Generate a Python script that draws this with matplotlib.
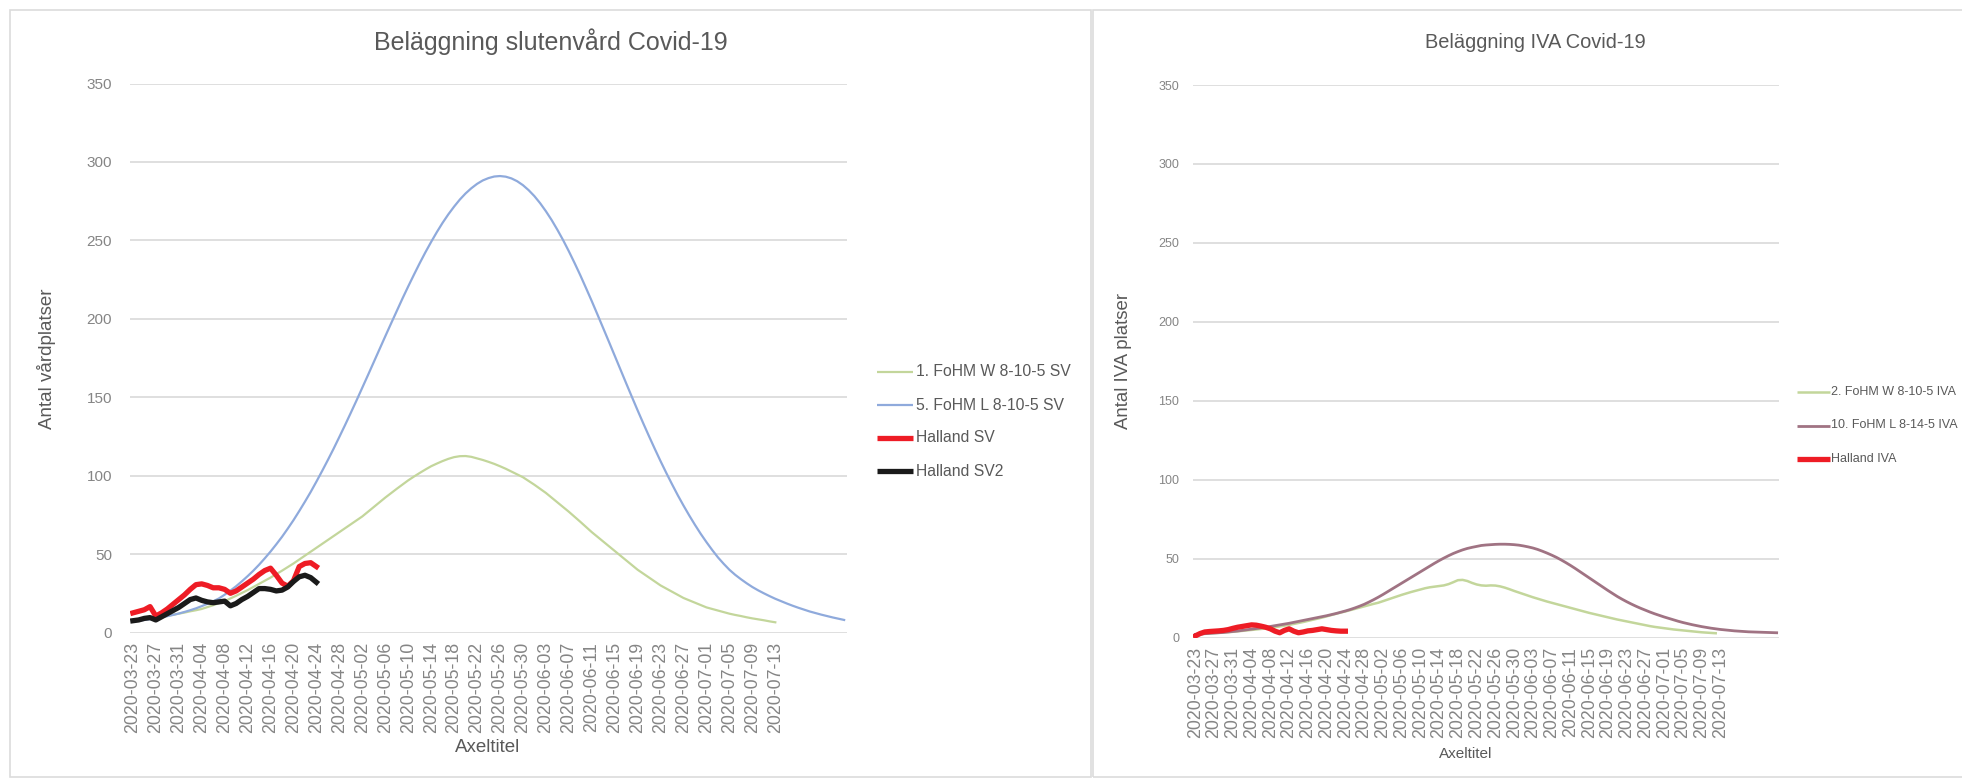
import matplotlib
matplotlib.use('Agg')
import matplotlib.pyplot as plt
from matplotlib.patches import Rectangle
from matplotlib.lines import Line2D

plt.rcParams['font.family'] = ['Liberation Sans', 'DejaVu Sans']

# ---------------- data ----------------
n_categories = 125  # 2020-03-23 .. 2020-07-25
tick_labels = ['2020-03-23', '2020-03-27', '2020-03-31', '2020-04-04', '2020-04-08',
               '2020-04-12', '2020-04-16', '2020-04-20', '2020-04-24', '2020-04-28',
               '2020-05-02', '2020-05-06', '2020-05-10', '2020-05-14', '2020-05-18',
               '2020-05-22', '2020-05-26', '2020-05-30', '2020-06-03', '2020-06-07',
               '2020-06-11', '2020-06-15', '2020-06-19', '2020-06-23', '2020-06-27',
               '2020-07-01', '2020-07-05', '2020-07-09', '2020-07-13']
tick_every = 4

sv_labels = ['1. FoHM W 8-10-5 SV', '5. FoHM L 8-10-5 SV', 'Halland SV', 'Halland SV2']
iva_labels = ['2. FoHM W 8-10-5 IVA', '10. FoHM L 8-14-5 IVA', 'Halland IVA']

sv_fohm_w = [8.0, 8.3, 8.7, 9.1, 9.5, 10.1, 10.7, 11.3, 12.0, 12.7,
             13.5, 14.2, 15.0, 16.2, 17.4, 18.7, 20.0, 21.7, 23.4, 25.2,
             27.0, 29.0, 31.0, 33.0, 35.0, 37.2, 39.4, 41.7, 44.0, 46.5,
             49.0, 51.5, 54.0, 56.5, 59.0, 61.5, 64.0, 66.5, 69.0, 71.5,
             74.0, 77.0, 80.0, 83.0, 86.0, 88.8, 91.6, 94.3, 97.0, 99.4,
             101.7, 103.9, 106.0, 107.7, 109.3, 110.7, 111.8, 112.4, 112.5, 112.0,
             111.0, 110.0, 108.8, 107.5, 106.0, 104.4, 102.6, 100.8, 99.0, 96.6,
             94.2, 91.6, 89.0, 86.0, 83.0, 80.0, 77.0, 73.8, 70.6, 67.3,
             64.0, 61.0, 58.0, 55.0, 52.0, 49.0, 46.0, 43.0, 40.0, 37.5,
             35.0, 32.5, 30.0, 28.0, 26.0, 24.0, 22.0, 20.5, 19.0, 17.5,
             16.0, 15.0, 14.0, 13.0, 12.0, 11.2, 10.5, 9.7, 9.0, 8.4,
             7.8, 7.1, 6.5]

sv_fohm_l = [7.0, 7.5, 8.0, 8.5, 9.0, 9.7, 10.4, 11.2, 12.1, 13.1,
             14.2, 15.4, 16.8, 18.3, 19.9, 21.7, 24.1, 26.7, 29.5, 32.6,
             35.9, 39.4, 43.2, 47.3, 51.6, 56.2, 61.0, 66.2, 71.6, 77.4,
             83.4, 89.6, 96.2, 103.0, 110.0, 117.2, 124.7, 132.3, 140.1, 148.0,
             156.1, 164.2, 172.4, 180.6, 188.8, 196.9, 204.9, 212.9, 220.6, 228.1,
             235.4, 242.4, 249.0, 255.3, 261.2, 266.6, 271.5, 276.0, 279.9, 283.2,
             286.0, 288.2, 289.7, 290.7, 291.0, 290.6, 289.5, 287.7, 285.2, 282.0,
             278.2, 273.7, 268.6, 263.0, 256.8, 250.2, 243.1, 235.6, 227.8, 219.6,
             211.3, 202.7, 194.0, 185.3, 176.5, 167.7, 158.9, 150.2, 141.6, 133.2,
             125.0, 117.0, 109.2, 101.7, 94.5, 87.5, 80.9, 74.6, 68.6, 62.9,
             57.6, 52.6, 47.9, 43.8, 40.0, 36.8, 34.0, 31.4, 29.0, 26.9,
             25.0, 23.2, 21.5, 20.0, 18.5, 17.1, 15.8, 14.6, 13.4, 12.4,
             11.4, 10.5, 9.6, 8.8, 8.0]

sv_halland = [12.5, 13.5, 14.5, 16.5, 10.5, 12.5, 15.0, 18.0, 21.0, 24.0,
              27.5, 30.5, 31.0, 30.0, 28.5, 28.5, 27.5, 25.0, 26.5, 29.0,
              31.5, 34.0, 37.0, 39.5, 41.0, 36.5, 31.5, 29.5, 33.0, 42.0,
              44.0, 44.5, 42.0]

sv_halland2 = [7.5, 8.0, 9.0, 9.5, 8.0, 10.0, 12.0, 14.0, 16.0, 18.5,
               21.0, 22.0, 20.5, 19.5, 19.0, 19.5, 20.0, 17.0, 18.5, 21.0,
               23.0, 25.5, 28.0, 28.0, 27.5, 26.5, 27.0, 29.0, 32.5, 35.5,
               36.5, 35.0, 32.0]

iva_fohm_w = [2.0, 2.2, 2.4, 2.6, 2.8, 3.0, 3.2, 3.4, 3.6, 3.9,
              4.2, 4.5, 4.8, 5.1, 5.4, 5.7, 6.0, 6.5, 7.0, 7.5,
              8.0, 8.6, 9.2, 9.8, 10.5, 11.2, 11.9, 12.6, 13.4, 14.2,
              15.0, 15.8, 16.5, 17.3, 18.1, 18.9, 19.7, 20.5, 21.3, 22.0,
              23.0, 24.0, 25.0, 26.0, 27.0, 27.9, 28.8, 29.6, 30.4, 31.2,
              31.8, 32.2, 32.6, 33.0, 33.8, 35.0, 36.3, 36.5, 35.8, 34.6,
              33.6, 33.0, 32.8, 33.0, 32.9, 32.4, 31.6, 30.6, 29.5, 28.5,
              27.5, 26.5, 25.5, 24.6, 23.7, 22.8, 22.0, 21.2, 20.4, 19.6,
              18.8, 18.0, 17.2, 16.4, 15.6, 14.9, 14.2, 13.5, 12.8, 12.1,
              11.4, 10.8, 10.2, 9.6, 9.0, 8.4, 7.8, 7.2, 6.7, 6.3,
              5.9, 5.5, 5.1, 4.8, 4.5, 4.2, 3.9, 3.6, 3.3, 3.1,
              2.9, 2.7]

iva_fohm_l = [2.0, 2.2, 2.4, 2.6, 2.8, 3.0, 3.2, 3.5, 3.8, 4.1,
              4.5, 4.9, 5.3, 5.7, 6.1, 6.5, 7.0, 7.5, 8.0, 8.5,
              9.0, 9.6, 10.2, 10.8, 11.4, 12.0, 12.6, 13.2, 13.8, 14.5,
              15.2, 16.0, 16.8, 17.7, 18.7, 19.8, 21.0, 22.4, 23.9, 25.5,
              27.2, 29.0, 30.8, 32.6, 34.4, 36.2, 38.0, 39.8, 41.6, 43.4,
              45.2, 47.0, 48.7, 50.3, 51.8, 53.2, 54.4, 55.5, 56.4, 57.1,
              57.7, 58.3, 58.6, 58.8, 59.0, 59.1, 59.1, 59.0, 58.8, 58.5,
              58.0, 57.4, 56.7, 55.8, 54.7, 53.5, 52.2, 50.8, 49.2, 47.5,
              45.7, 43.8, 41.8, 39.8, 37.8, 35.8, 33.8, 31.8, 29.8, 27.9,
              26.0, 24.3, 22.7, 21.2, 19.8, 18.5, 17.3, 16.1, 15.0, 14.0,
              13.0, 12.1, 11.2, 10.3, 9.5, 8.8, 8.1, 7.5, 6.9, 6.4,
              5.9, 5.5, 5.1, 4.8, 4.5, 4.2, 4.0, 3.8, 3.6, 3.5,
              3.4, 3.3, 3.2, 3.1, 3.0]

iva_halland = [1.0, 2.5, 3.5, 3.8, 4.0, 4.2, 4.5, 5.0, 5.8, 6.5,
               7.0, 7.5, 8.0, 7.8, 7.2, 6.5, 5.5, 4.0, 3.0, 4.5,
               5.5, 4.0, 3.0, 3.5, 4.2, 4.5, 5.0, 5.5, 5.0, 4.5,
               4.2, 4.0, 4.0]

y_ticks = [0, 50, 100, 150, 200, 250, 300, 350]

# ---------------- styling ----------------
W, H = 1962, 781
C_GREEN = '#C3D69B'
C_BLUE = '#8FAADC'
C_RED = '#EE1C25'
C_BLACK = '#1A1A1A'
C_PURPLE = '#A07383'
C_GRID = '#DCDCDC'
C_TEXT = '#595959'
C_TICK = '#858585'

fig = plt.figure(figsize=(W / 100, H / 100), dpi=100)
fig.patch.set_facecolor('white')


def px_axes(x0, x1, y0, y1):
    return fig.add_axes([x0 / W, 1 - y1 / H, (x1 - x0) / W, (y1 - y0) / H])


def fx(x):
    return x / W


def fy(y):
    return 1 - y / H


# panel borders
fig.add_artist(Rectangle((fx(10), fy(777)), (1091 - 10) / W, (777 - 10) / H,
                         transform=fig.transFigure, fill=False, ec=C_GRID, lw=1.2))
fig.add_artist(Rectangle((fx(1093), fy(777)), (1975 - 1093) / W, (777 - 10) / H,
                         transform=fig.transFigure, fill=False, ec=C_GRID, lw=1.2))


def style_axes(ax, ytick_size, xtick_size, ypad, xpad):
    ax.set_xlim(-0.5, n_categories - 0.5)
    ax.set_ylim(0, 350)
    ax.set_yticks(y_ticks)
    ax.set_yticklabels([str(v) for v in y_ticks], fontsize=ytick_size, color=C_TICK)
    ax.set_xticks(list(range(0, len(tick_labels) * tick_every, tick_every)))
    ax.set_xticklabels(tick_labels, rotation=90, fontsize=xtick_size, color=C_TICK)
    ax.tick_params(axis='both', length=0)
    ax.tick_params(axis='y', pad=ypad)
    ax.tick_params(axis='x', pad=xpad)
    ax.grid(axis='y', color=C_GRID, lw=1.3)
    ax.set_axisbelow(True)
    for s in ax.spines.values():
        s.set_visible(False)
    ax.set_facecolor('none')


# ---------------- left chart ----------------
axL = px_axes(130, 847, 83.5, 632.5)
style_axes(axL, 11, 12.8, 13, 7)
axL.plot(range(len(sv_fohm_w)), sv_fohm_w, color=C_GREEN, lw=1.6, label=sv_labels[0])
axL.plot(range(len(sv_fohm_l)), sv_fohm_l, color=C_BLUE, lw=1.6, label=sv_labels[1])
axL.plot(range(len(sv_halland)), sv_halland, color=C_RED, lw=3.8, label=sv_labels[2])
axL.plot(range(len(sv_halland2)), sv_halland2, color=C_BLACK, lw=3.8, label=sv_labels[3])

fig.text(fx(551), fy(42), 'Beläggning slutenvård Covid-19', ha='center', va='center',
         fontsize=18, color=C_TEXT)
fig.text(fx(46), fy(359), 'Antal vårdplatser', ha='center', va='center', rotation=90,
         fontsize=13.5, color=C_TEXT)
fig.text(fx(488), fy(748), 'Axeltitel', ha='center', va='center', fontsize=13.5, color=C_TEXT)

sv_colors = [C_GREEN, C_BLUE, C_RED, C_BLACK]
sv_widths = [1.6, 1.6, 3.8, 3.8]
for i, (lab, col, lw_) in enumerate(zip(sv_labels, sv_colors, sv_widths)):
    yy = 372 + i * 33
    fig.add_artist(Line2D([fx(877), fx(913)], [fy(yy), fy(yy)], transform=fig.transFigure,
                          color=col, lw=lw_, solid_capstyle='butt'))
    fig.text(fx(916), fy(yy), lab, ha='left', va='center', fontsize=11.3, color=C_TEXT)

# ---------------- right chart ----------------
axR = px_axes(1193, 1779, 85, 637.5)
style_axes(axR, 9, 12.8, 10, 7)
axR.plot(range(len(iva_fohm_w)), iva_fohm_w, color=C_GREEN, lw=1.8, label=iva_labels[0])
axR.plot(range(len(iva_fohm_l)), iva_fohm_l, color=C_PURPLE, lw=2.0, label=iva_labels[1])
axR.plot(range(len(iva_halland)), iva_halland, color=C_RED, lw=3.8, label=iva_labels[2])

fig.text(fx(1535), fy(42), 'Beläggning IVA Covid-19', ha='center', va='center',
         fontsize=14.4, color=C_TEXT)
fig.text(fx(1123), fy(361), 'Antal IVA platser', ha='center', va='center', rotation=90,
         fontsize=13.4, color=C_TEXT)
fig.text(fx(1466), fy(754), 'Axeltitel', ha='center', va='center', fontsize=11, color=C_TEXT)

iva_colors = [C_GREEN, C_PURPLE, C_RED]
iva_widths = [1.8, 2.0, 3.8]
for i, (lab, col, lw_) in enumerate(zip(iva_labels, iva_colors, iva_widths)):
    yy = 392 + i * 33.5
    fig.add_artist(Line2D([fx(1797), fx(1830)], [fy(yy), fy(yy)], transform=fig.transFigure,
                          color=col, lw=lw_, solid_capstyle='butt'))
    fig.text(fx(1831), fy(yy), lab, ha='left', va='center', fontsize=9, color=C_TEXT)

fig.savefig('out.png', dpi=100, facecolor='white')
